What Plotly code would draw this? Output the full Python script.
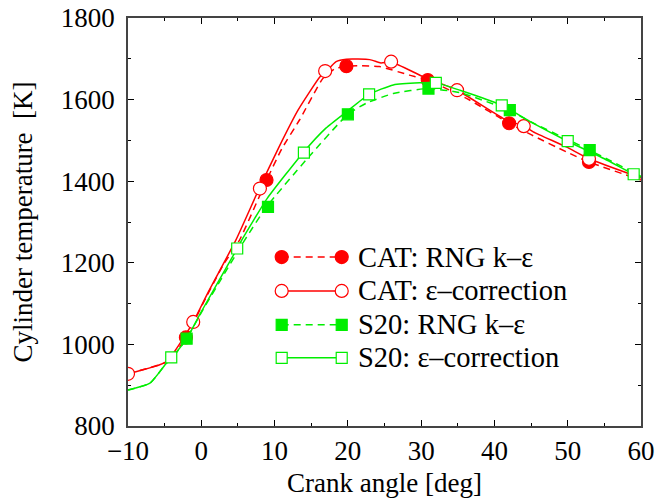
import plotly.graph_objects as go

# ---- data ----
# curve points
cat_rng_x = [-10, -7, -4.8, -2.1, 0, 3, 5.2, 8.9, 11, 13.4, 16.6, 18.2, 19.8, 21.6, 24.3, 28.4, 30.9, 36.6, 42, 45, 49.8, 52.9, 60]
cat_rng_t = [928, 943, 957, 1015, 1092, 1195, 1255, 1402, 1480, 1550, 1652, 1675, 1682, 1683, 1681, 1660, 1648, 1599, 1542, 1514, 1472, 1447, 1403]

cat_eps_x = [-10, -4.8, -2.1, -1.1, 1, 4.7, 7.9, 10.5, 13.2, 16.2, 17, 18.4, 19.8, 23, 24.5, 25.9, 30.3, 34.9, 41.6, 44, 45.3, 49.8, 52.9, 60]
cat_eps_t = [928, 957, 1025, 1055, 1130, 1255, 1382, 1480, 1574, 1656, 1668, 1693, 1699, 1698, 1690, 1692, 1656, 1623, 1550, 1535, 1521, 1484, 1455, 1408]

s20_rng_x = [-10, -7, -4.8, -4.0, -2, 0, 5.9, 8.9, 14.3, 20, 22.5, 26.2, 30.9, 35.3, 42, 45, 50, 53, 60]
s20_rng_t = [888, 905, 953, 966, 1014, 1078, 1255, 1337, 1452, 1564, 1591, 1615, 1627, 1617, 1574, 1545, 1502, 1476, 1412]

s20_eps_x = [-10, -7, -4.8, -4.0, -2, 0, 4.9, 5.5, 9, 13.9, 17, 19.8, 22.9, 26.2, 29.8, 32, 35.3, 41, 45, 50, 55, 59, 60]
s20_eps_t = [888, 905, 953, 968, 1014, 1080, 1235, 1255, 1358, 1470, 1530, 1570, 1613, 1636, 1641, 1641, 1623, 1586, 1545, 1498, 1455, 1417, 1410]

# marker points
cat_rng_mx = [-2.1, 8.9, 19.8, 30.9, 42.0, 52.9]
cat_rng_mt = [1017, 1403, 1682, 1648, 1542, 1447]
cat_eps_mx = [-10, -1.1, 8.0, 16.9, 25.9, 34.9, 44.0, 52.9]
cat_eps_mt = [928, 1055, 1382, 1670, 1693, 1623, 1535, 1455]
s20_rng_mx = [-2.0, 9.1, 20.0, 31.0, 42.1, 53.0]
s20_rng_mt = [1014, 1337, 1564, 1627, 1574, 1476]
s20_eps_mx = [-4.1, 4.9, 14.0, 22.9, 32.0, 41.0, 50.0, 59.0]
s20_eps_mt = [968, 1235, 1470, 1613, 1641, 1586, 1498, 1417]

labels = ["CAT: RNG k\u2013\u03b5", "CAT: \u03b5\u2013correction", "S20: RNG k\u2013\u03b5", "S20: \u03b5\u2013correction"]
x_ticks = [-10, 0, 10, 20, 30, 40, 50, 60]
y_ticks = [800, 1000, 1200, 1400, 1600, 1800]

RED = "#ff0000"
GREEN = "#00ee00"
FONT = "Liberation Serif"
DASH = "7px,5px"

series = [
    (cat_rng_x, cat_rng_t, cat_rng_mx, cat_rng_mt, RED, DASH, "circle", RED, 13),
    (cat_eps_x, cat_eps_t, cat_eps_mx, cat_eps_mt, RED, "solid", "circle", "white", 13),
    (s20_rng_x, s20_rng_t, s20_rng_mx, s20_rng_mt, GREEN, DASH, "square", GREEN, 11),
    (s20_eps_x, s20_eps_t, s20_eps_mx, s20_eps_mt, GREEN, "solid", "square", "white", 11),
]

fig = go.Figure()
for (lx, ly, mx, my, col, dash, sym, fill, sz) in series:
    fig.add_trace(go.Scatter(x=lx, y=ly, mode="lines",
                             line=dict(color=col, width=1.5, dash=dash, shape="spline", smoothing=0.5),
                             showlegend=False, hoverinfo="skip"))
    fig.add_trace(go.Scatter(x=mx, y=my, mode="markers",
                             marker=dict(symbol=sym, size=sz, color=fill, line=dict(color=col, width=1.2)),
                             showlegend=False))

# custom gnuplot-style legend on an overlay axis (0..1 each way)
leg_x0, leg_x1, leg_tx = 0.2996, 0.4166, 0.444
leg_y = [0.414, 0.331, 0.248, 0.167]
for i, (lx, ly, mx, my, col, dash, sym, fill, sz) in enumerate(series):
    fig.add_trace(go.Scatter(x=[leg_x0, leg_x1], y=[leg_y[i], leg_y[i]], mode="lines+markers",
                             xaxis="x2", yaxis="y2",
                             line=dict(color=col, width=1.5, dash=dash),
                             marker=dict(symbol=sym, size=sz, color=fill, line=dict(color=col, width=1.2)),
                             showlegend=False, hoverinfo="skip"))
    fig.add_annotation(x=leg_tx, y=leg_y[i], xref="x2", yref="y2", text=labels[i],
                       showarrow=False, xanchor="left", yanchor="middle",
                       font=dict(family=FONT, size=28.5, color="black"))

axis_common = dict(showgrid=False, zeroline=False, showline=True, linecolor="#444", linewidth=1.5,
                   mirror="allticks", ticks="inside", ticklen=6, tickwidth=1, tickcolor="black",
                   automargin=False,
                   tickfont=dict(family=FONT, size=27, color="black"))

fig.update_layout(
    width=672, height=498, autosize=False,
    margin=dict(l=128, r=31, t=18, b=72),
    paper_bgcolor="white", plot_bgcolor="white",
    xaxis=dict(range=[-10, 60], tickvals=x_ticks, ticktext=[("\u221210" if v < 0 else str(v)) for v in x_ticks],
               minor=dict(dtick=5, ticks="inside", ticklen=3, tickcolor="black"),
               title=dict(text="Crank angle [deg]", font=dict(family=FONT, size=27, color="black"), standoff=8),
               **axis_common),
    yaxis=dict(range=[800, 1800], tickvals=y_ticks, ticktext=[str(v) for v in y_ticks],
               minor=dict(dtick=100, ticks="inside", ticklen=3, tickcolor="black"),
               title=dict(text="Cylinder temperature  [K]", font=dict(family=FONT, size=27, color="black"), standoff=20),
               ticklabelstandoff=6,
               **axis_common),
    xaxis2=dict(range=[0, 1], overlaying="x", visible=False, fixedrange=True),
    yaxis2=dict(range=[0, 1], overlaying="y", visible=False, fixedrange=True),
)

fig.write_html("out.html", config={"displayModeBar": False},
               post_script="document.body.style.margin='0';")
